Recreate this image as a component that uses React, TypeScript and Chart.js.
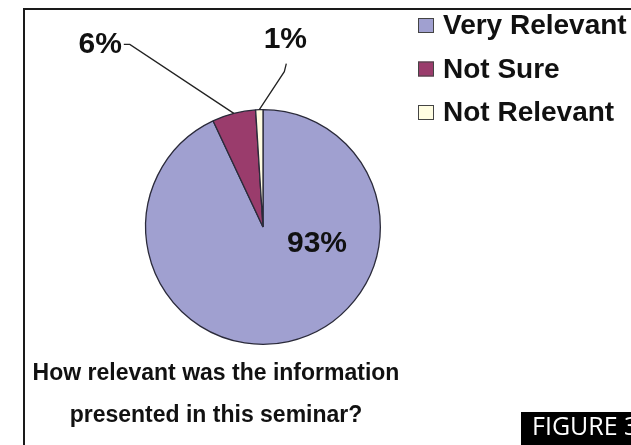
import React, { useEffect, useRef } from "react";
import { Chart, registerables } from "chart.js";

Chart.register(...registerables);

const categories = ["Very Relevant", "Not Sure", "Not Relevant"];
const values = [93, 6, 1];
const valueLabels = ["93%", "6%", "1%"];
const captionLines = ["How relevant was the information", "presented in this seminar?"];
const figureLabel = "FIGURE 3";
const colors = ["#A0A0D0", "#9A3C6C", "#FFFDE2"];

const FONT = '"Liberation Sans", Arial, sans-serif';

const overlayPlugin = {
  id: "overlay",
  afterDraw(chart: any) {
    const ctx: CanvasRenderingContext2D = chart.ctx;
    const meta = chart.getDatasetMeta(0);
    ctx.save();

    // frame
    ctx.strokeStyle = "#1a1a1a";
    ctx.lineWidth = 2;
    ctx.beginPath();
    ctx.moveTo(24, 445);
    ctx.lineTo(24, 9);
    ctx.lineTo(631, 9);
    ctx.stroke();

    // legend
    ctx.font = `bold 28px ${FONT}`;
    ctx.textBaseline = "middle";
    ctx.textAlign = "left";
    categories.forEach((c, i) => {
      const y = 25.5 + i * 43.5;
      ctx.fillStyle = colors[i];
      ctx.fillRect(418, y - 7.5, 16, 15);
      ctx.strokeStyle = "#444";
      ctx.lineWidth = 1;
      ctx.strokeRect(418.5, y - 7, 15, 14);
      ctx.fillStyle = "#111";
      ctx.fillText(c, 443, y + 1);
    });

    // data labels
    const pts = meta.data.map((arc: any) => {
      const mid = (arc.startAngle + arc.endAngle) / 2;
      return {
        x: arc.x + Math.cos(mid) * arc.outerRadius,
        y: arc.y + Math.sin(mid) * arc.outerRadius,
        cx: arc.x,
        cy: arc.y,
        r: arc.outerRadius,
      };
    });
    ctx.fillStyle = "#111";
    ctx.font = `bold 30px ${FONT}`;
    const p0 = pts[0];
    ctx.textAlign = "center";
    ctx.fillText(valueLabels[0], p0.cx + 0.46 * p0.r, p0.cy + 0.14 * p0.r);

    ctx.strokeStyle = "#222";
    ctx.lineWidth = 1.3;
    const p1 = pts[1];
    const e1x = p1.x - 104, e1y = p1.y - 69;
    ctx.beginPath();
    ctx.moveTo(p1.x, p1.y);
    ctx.lineTo(e1x, e1y);
    ctx.lineTo(e1x - 6, e1y);
    ctx.stroke();
    ctx.textAlign = "right";
    ctx.fillText(valueLabels[1], e1x - 8, e1y);

    const p2 = pts[2];
    const e2x = p2.x + 25, e2y = p2.y - 38;
    ctx.beginPath();
    ctx.moveTo(p2.x, p2.y);
    ctx.lineTo(e2x, e2y);
    ctx.lineTo(e2x + 2, e2y - 8);
    ctx.stroke();
    ctx.textAlign = "center";
    ctx.fillText(valueLabels[2], e2x + 1, e2y - 32);

    // caption
    ctx.font = `bold 23px ${FONT}`;
    ctx.fillStyle = "#111";
    ctx.textAlign = "center";
    captionLines.forEach((l, i) => {
      ctx.fillText(l, 216, 374 + i * 42);
    });

    // figure box
    ctx.fillStyle = "#000";
    ctx.fillRect(521, 412, 110, 33);
    ctx.fillStyle = "#fff";
    ctx.font = `25px "Open Sans", "Noto Sans", sans-serif`;
    ctx.textAlign = "left";
    ctx.fillText(figureLabel, 532, 428);

    ctx.restore();
  },
};

export default function App() {
  const ref = useRef<HTMLCanvasElement | null>(null);
  useEffect(() => {
    if (!ref.current) return;
    const chart = new Chart(ref.current, {
      type: "pie",
      data: {
        labels: categories,
        datasets: [
          {
            data: values,
            backgroundColor: colors,
            borderColor: "#2a2a3a",
            borderWidth: 1.3,
          },
        ],
      },
      options: {
        responsive: false,
        animation: false,
        layout: { padding: { left: 145, right: 250, top: 109, bottom: 100 } },
        plugins: {
          legend: { display: false },
          tooltip: { enabled: false },
          title: { display: false },
        },
      },
      plugins: [overlayPlugin],
    });
    return () => chart.destroy();
  }, []);
  return (
    <div style={{ position: "fixed", left: 0, top: 0, width: 631, height: 445, background: "#fff" }}>
      <canvas ref={ref} width={631} height={445} style={{ display: "block" }} />
    </div>
  );
}
